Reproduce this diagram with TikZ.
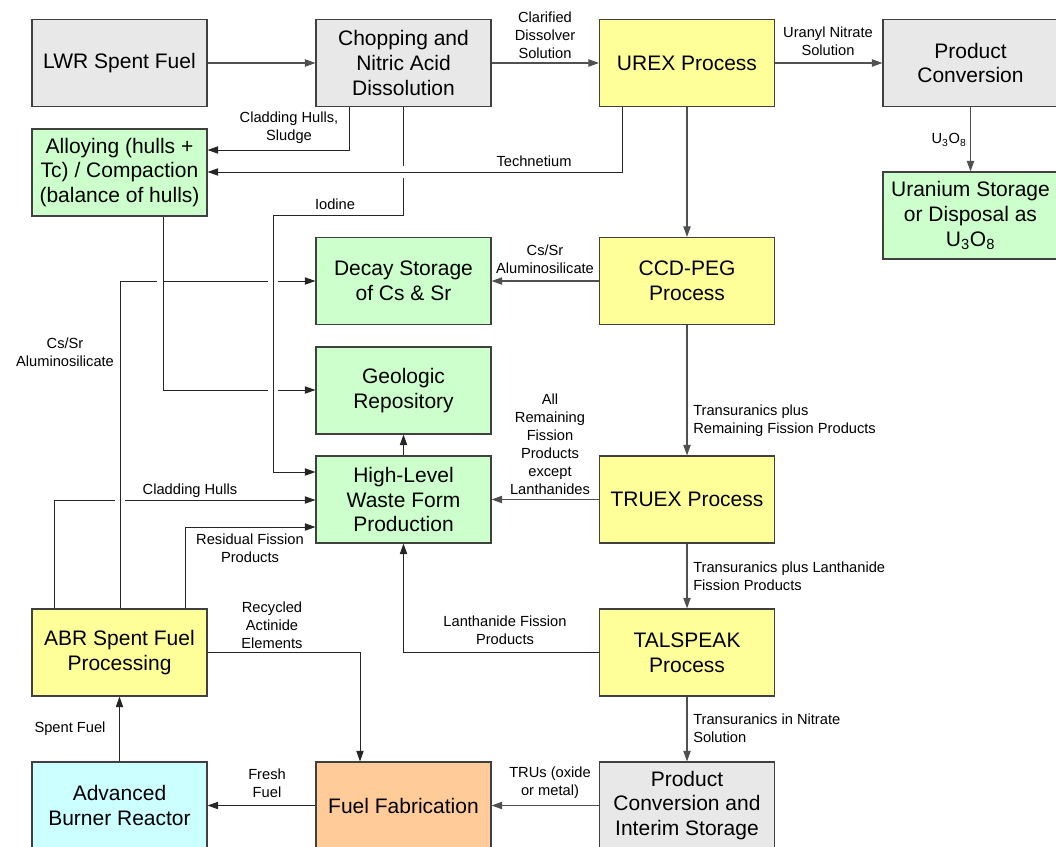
\documentclass[tikz,border=0pt]{standalone}
\usepackage{fontspec}
\setmainfont{Liberation Sans}
\usetikzlibrary{arrows.meta}
\definecolor{boxgray}{HTML}{E8E8E8}
\definecolor{boxgreen}{HTML}{CCFFCC}
\definecolor{boxyellow}{HTML}{FFFF99}
\definecolor{boxcyan}{HTML}{CCFFFF}
\definecolor{boxorange}{HTML}{FFCC99}
\definecolor{edgegray}{HTML}{404040}
\definecolor{flowgray}{HTML}{505050}
\begin{document}
\begin{tikzpicture}[x=0.75pt,y=-0.75pt,
  stage/.style={draw=edgegray, line width=0.8pt, minimum width=131.25pt, minimum height=65.25pt,
    inner sep=0pt, align=center, font=\fontsize{15.75pt}{18.6pt}\selectfont},
  gray box/.style={stage, fill=boxgray},
  green box/.style={stage, fill=boxgreen},
  yellow box/.style={stage, fill=boxyellow},
  cyan box/.style={stage, fill=boxcyan},
  orange box/.style={stage, fill=boxorange},
  link/.style={draw=black!85, line width=0.75pt, -{Triangle[length=8pt,width=5.5pt]}},
  flow/.style={link, draw=flowgray, line width=0.95pt},
  lbl/.style={inner sep=0pt, align=center, font=\fontsize{11pt}{13.5pt}\selectfont},
  lbll/.style={lbl, align=left, anchor=west},
  mask/.style={draw=white, line width=3pt}]

\useasboundingbox (0,0) rectangle (1056,846);
\fill[white] (0,0) rectangle (1056,846);

% process stages
\node[gray box]   (LWR)   at (119.5,63)    {LWR Spent Fuel};
\node[gray box]   (Chop)  at (403.5,63)    {Chopping and\\Nitric Acid\\Dissolution};
\node[yellow box] (UREX)  at (687,63)      {UREX Process};
\node[gray box]   (PConv) at (970.5,63)    {Product\\Conversion};
\node[green box]  (UStor) at (970.5,215.5) {Uranium Storage\\or Disposal as\\U\textsubscript{3}O\textsubscript{8}};
\node[green box]  (Alloy) at (119.5,172.5) {Alloying (hulls +\\Tc) / Compaction\\(balance of hulls)};
\node[green box]  (Decay) at (403.5,281)   {Decay Storage\\of Cs \& Sr};
\node[yellow box] (CCD)   at (687,281)     {CCD-PEG\\Process};
\node[green box]  (Geo)   at (403.5,390.5) {Geologic\\Repository};
\node[green box]  (HLW)   at (403.5,499.5) {High-Level\\Waste Form\\Production};
\node[yellow box] (TRUEX) at (687,499.5)   {TRUEX Process};
\node[yellow box] (TALS)  at (687,652.5)   {TALSPEAK\\Process};
\node[yellow box] (ABRP)  at (119.5,652.5) {ABR Spent Fuel\\Processing};
\node[cyan box]   (ABR)   at (119.5,805.5) {Advanced\\Burner Reactor};
\node[orange box] (Fab)   at (403.5,805.5) {Fuel Fabrication};
\node[gray box]   (Inter) at (687,805.5)   {Product\\Conversion and\\Interim Storage};

% bend points
\coordinate (kHull)  at (349,150);
\coordinate (kTc)    at (622,172);
\coordinate (kIa)    at (403,215);
\coordinate (kIb)    at (273,215);
\coordinate (kIc)    at (273,472);
\coordinate (kAl)    at (163,390);
\coordinate (kCs)    at (120,281);
\coordinate (kCl)    at (54,500);
\coordinate (kRes)   at (185,527);
\coordinate (kRec)   at (360,652.5);

% main flow
\draw[flow] (LWR.east) -- (Chop.west);
\draw[flow] (Chop.east) -- (UREX.west);
\draw[flow] (UREX.east) -- (PConv.west);
\draw[flow] (PConv.south) -- (UStor.north);
\draw[flow] (UREX.south) -- (CCD.north);
\draw[flow] (CCD.south) -- (TRUEX.north);
\draw[flow] (TRUEX.south) -- (TALS.north);
\draw[flow] (TALS.south) -- (Inter.north);
\draw[flow] (CCD.west) -- (Decay.east);
\draw[flow] (TRUEX.west) -- (HLW.east);
\draw[flow] (Inter.west) -- (Fab.west -| Fab.east);
\draw[link] (Fab.west) -- (ABR.east);
\draw[link] (ABR.north) -- (ABRP.south);
\draw[link] (HLW.north) -- (Geo.south);
\draw[link] (TALS.west) -| (HLW.south);
\draw[link] (ABRP.east) -- (kRec) -- (Fab.north -| kRec);
\draw[link] (Chop.south -| kHull) -- (kHull) -- (Alloy.east |- kHull);

% side streams, drawn in order so that crossings leave a break
\draw[link] (ABRP.north -| kCl) -- (kCl) -- (HLW.west |- kCl);
\draw[mask] (115,500) -- (125,500);
\draw[link] (ABRP.north -| kRes) -- (kRes) -- (HLW.west |- kRes);
\draw[link] (ABRP.north -| kCs) -- (kCs) -- (Decay.west |- kCs);
\draw[mask] (157,281) -- (163,281);
\draw[mask] (267.5,281) -- (278,281);
\draw[link] (Alloy.south -| kAl) -- (kAl) -- (Geo.west |- kAl);
\draw[mask] (267.5,390) -- (278,390);
\draw[link] (Chop.south -| kIa) -- (kIa) -- (kIb) -- (kIc) -- (HLW.west |- kIc);
\draw[mask] (403,166) -- (403,178);
\draw[link] (UREX.south -| kTc) -- (kTc) -- (Alloy.east |- kTc);

% stream labels
\node[lbl] (lClar) at (545,35)    {Clarified\\Dissolver\\Solution};
\node[lbl] (lUNit) at (828,41)    {Uranyl Nitrate\\Solution};
\node[lbl] (lUox)  at (949,140)   {U\textsubscript{3}O\textsubscript{8}};
\node[lbl] (lHull) at (289,128)   {Cladding Hulls,\\Sludge};
\node[lbl] (lTc)   at (534,161)   {Technetium};
\node[lbl] (lIod)  at (335,204)   {Iodine};
\node[lbl] (lCsA)  at (545,259)   {Cs/Sr\\Aluminosilicate};
\node[lbl] (lCsB)  at (65,352)    {Cs/Sr\\Aluminosilicate};
\node[lbl] (lClad) at (190,491)   {Cladding Hulls};
\node[lbl] (lRes)  at (250,548)   {Residual Fission\\Products};
\node[lbl] (lAll)  at (550,444.5) {All\\Remaining\\Fission\\Products\\except\\Lanthanides};
\node[lbll] (lTRa) at (693,421)   {Transuranics plus\\Remaining Fission Products};
\node[lbll] (lTRb) at (693,576)   {Transuranics plus Lanthanide\\Fission Products};
\node[lbl] (lLan)  at (505,630)   {Lanthanide Fission\\Products};
\node[lbl] (lRec)  at (272,625)   {Recycled\\Actinide\\Elements};
\node[lbll] (lTRc) at (693,728)   {Transuranics in Nitrate\\Solution};
\node[lbl] (lTRU)  at (550,783)   {TRUs (oxide\\or metal)};
\node[lbl] (lFrsh) at (267,783)   {Fresh\\Fuel};
\node[lbl] (lSpnt) at (70,729)    {Spent Fuel};
\end{tikzpicture}
\end{document}
